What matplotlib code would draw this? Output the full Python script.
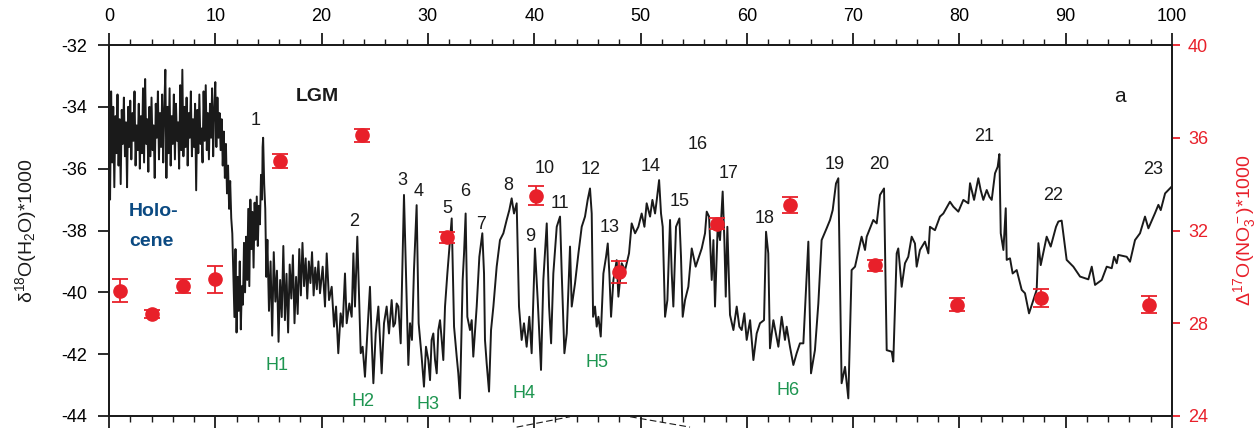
import matplotlib
matplotlib.use("Agg")
import matplotlib.pyplot as plt
from matplotlib.lines import Line2D
from matplotlib.ticker import MultipleLocator

plt.rcParams["font.family"] = ["Liberation Sans", "DejaVu Sans"]
plt.rcParams["mathtext.fontset"] = "custom"
plt.rcParams["mathtext.rm"] = "Liberation Sans"
plt.rcParams["mathtext.it"] = "Liberation Sans:italic"
plt.rcParams["mathtext.bf"] = "Liberation Sans:bold"
plt.rcParams["axes.unicode_minus"] = False

# ice-core d18O record: (age ka, d18O permil)
holocene = [
    (0.0, -34.2), (0.1, -37.0), (0.2, -33.5), (0.3, -35.8), (0.4, -34.0), (0.5, -36.6), (0.6, -34.3), (0.7, -35.5),
    (0.8, -33.6), (0.9, -35.9), (1.0, -34.4), (1.1, -36.5), (1.2, -34.1), (1.3, -35.2), (1.4, -33.7), (1.5, -35.6),
    (1.6, -34.5), (1.7, -36.6), (1.8, -34.0), (1.9, -35.3), (2.0, -33.8), (2.1, -35.7), (2.2, -34.2), (2.3, -35.1),
    (2.4, -33.5), (2.5, -35.9), (2.6, -34.6), (2.7, -35.4), (2.8, -33.9), (2.9, -36.0), (3.0, -34.3), (3.1, -35.5),
    (3.2, -33.4), (3.3, -35.8), (3.4, -33.1), (3.5, -35.2), (3.6, -34.4), (3.7, -36.1), (3.8, -34.0), (3.9, -35.6),
    (4.0, -33.7), (4.1, -35.4), (4.2, -34.6), (4.3, -36.3), (4.4, -33.9), (4.5, -35.0), (4.6, -33.5), (4.7, -35.7),
    (4.8, -34.2), (4.9, -35.3), (5.0, -33.6), (5.1, -35.8), (5.2, -34.1), (5.3, -32.8), (5.4, -36.3), (5.5, -34.0),
    (5.6, -35.5), (5.7, -33.4), (5.8, -35.9), (5.9, -34.3), (6.0, -35.2), (6.1, -33.6), (6.2, -35.7), (6.3, -33.9),
    (6.4, -35.1), (6.5, -34.5), (6.6, -36.0), (6.7, -33.3), (6.8, -35.4), (6.9, -32.8), (7.0, -35.6), (7.1, -34.0),
    (7.2, -35.3), (7.3, -33.7), (7.4, -35.9), (7.5, -34.2), (7.6, -35.0), (7.7, -33.5), (7.8, -35.6), (7.9, -34.4),
    (8.0, -35.3), (8.1, -33.9), (8.2, -36.7), (8.3, -34.1), (8.4, -35.5), (8.5, -33.6), (8.6, -35.2), (8.7, -34.7),
    (8.8, -35.8), (8.9, -33.5), (9.0, -35.1), (9.1, -33.3), (9.2, -35.4), (9.3, -34.2), (9.4, -35.7), (9.5, -33.9),
    (9.6, -35.0), (9.7, -33.4), (9.8, -35.6), (9.9, -34.1), (10.0, -33.2), (10.1, -35.3), (10.2, -33.7), (10.3, -35.0),
    (10.4, -34.2), (10.5, -35.4), (10.6, -34.4), (10.7, -35.9), (10.8, -34.8), (10.9, -36.3), (11.0, -35.2),
    (11.1, -36.8), (11.2, -35.9), (11.3, -37.3), (11.4, -36.4), (11.5, -37.6), (11.6, -38.1),
]

deglacial = [
    (11.7, -39.4), (11.8, -40.8), (11.9, -38.6), (12.0, -41.3), (12.1, -39.5), (12.2, -40.6), (12.3, -39.0),
    (12.4, -41.2), (12.5, -39.8), (12.6, -40.4), (12.7, -38.4), (12.8, -40.0), (12.9, -38.2), (13.0, -39.6),
    (13.1, -37.3), (13.2, -39.8), (13.3, -37.0), (13.4, -38.6), (13.5, -37.4), (13.6, -39.2), (13.7, -37.1),
    (13.8, -38.3), (13.9, -36.9), (14.0, -38.5), (14.1, -37.2), (14.2, -37.8), (14.3, -36.2), (14.4, -37.0),
    (14.45, -35.3), (14.5, -35.0), (14.6, -36.5), (14.7, -37.3), (14.8, -39.5),
]

stadial_h1 = [
    (14.9, -38.3), (15.05, -40.6), (15.2, -39.0), (15.35, -41.4), (15.5, -38.7), (15.65, -40.3), (15.8, -39.3),
    (15.95, -41.6), (16.1, -39.6), (16.25, -40.8), (16.4, -38.5), (16.55, -40.9), (16.7, -39.4), (16.85, -41.3),
    (17.0, -39.1), (17.15, -40.2), (17.3, -38.8), (17.45, -41.0), (17.6, -39.5), (17.75, -40.7), (17.9, -38.6),
    (18.05, -40.1), (18.2, -38.4), (18.35, -39.8), (18.5, -38.9), (18.65, -40.2), (18.8, -39.0), (18.95, -39.7),
    (19.1, -38.7), (19.25, -40.1), (19.4, -39.2), (19.55, -39.9), (19.7, -39.0),
]

glacial_20_40 = [
    (19.85, -40.03), (20.10, -39.17), (20.32, -40.46), (20.48, -38.74), (20.70, -40.25), (20.95, -39.82),
    (21.17, -41.11), (21.36, -40.46), (21.57, -41.97), (21.79, -40.68), (21.98, -41.11), (22.20, -39.39),
    (22.36, -41.00), (22.61, -40.36), (22.83, -40.79), (22.99, -38.74), (23.14, -40.46), (23.36, -38.20),
    (23.55, -40.46), (23.68, -41.97), (23.86, -41.76), (24.08, -42.73), (24.30, -41.33), (24.55, -39.82),
    (24.71, -41.54), (24.87, -42.94), (25.09, -41.33), (25.34, -40.46), (25.49, -41.54), (25.65, -42.62),
    (25.87, -41.00), (26.12, -40.46), (26.34, -41.33), (26.59, -40.25), (26.75, -41.11), (26.91, -41.00),
    (27.06, -40.36), (27.22, -40.46), (27.44, -41.65), (27.63, -38.63), (27.75, -36.85), (27.94, -39.39),
    (28.16, -42.35), (28.32, -41.00), (28.50, -41.54), (28.69, -39.28), (28.94, -37.18), (29.13, -41.00),
    (29.41, -42.08), (29.63, -43.05), (29.82, -41.76), (30.04, -42.19), (30.20, -42.84), (30.35, -41.54),
    (30.51, -41.33), (30.67, -42.19), (30.83, -42.62), (30.98, -41.22), (31.14, -40.90), (31.30, -41.54),
    (31.45, -42.19), (31.61, -40.46), (31.83, -39.39), (32.08, -38.31), (32.24, -37.61), (32.46, -41.11),
    (32.71, -42.08), (32.86, -42.62), (33.02, -43.43), (33.27, -39.60), (33.40, -38.74), (33.55, -37.45),
    (33.71, -40.79), (33.96, -41.22), (34.12, -40.90), (34.27, -42.08), (34.59, -40.46), (34.84, -38.85),
    (35.12, -38.09), (35.28, -39.39), (35.37, -41.54), (35.53, -42.30), (35.75, -43.21), (35.94, -41.22),
    (36.16, -40.46), (36.47, -39.17), (36.78, -38.31), (37.10, -38.09), (37.41, -37.66), (37.66, -37.34),
    (37.88, -36.96), (38.10, -37.45), (38.35, -37.12), (38.57, -40.46), (38.82, -41.54), (39.04, -41.00),
    (39.29, -41.76), (39.54, -40.79), (39.76, -41.97), (40.07, -38.58),
]

glacial_40_60 = [
    (40.33, -40.25), (40.64, -42.51), (40.86, -39.60), (41.18, -37.77), (41.40, -40.46), (41.59, -41.65),
    (41.80, -39.39), (42.12, -37.88), (42.43, -37.55), (42.59, -39.39), (42.84, -41.97), (43.06, -41.33),
    (43.37, -38.52), (43.53, -40.46), (43.84, -39.71), (44.16, -38.74), (44.47, -37.88), (44.78, -37.55),
    (45.03, -37.01), (45.25, -36.64), (45.41, -37.45), (45.54, -40.79), (45.72, -40.46), (45.88, -41.11),
    (46.04, -40.79), (46.26, -41.43), (46.51, -39.39), (46.76, -38.85), (46.92, -38.42), (47.07, -39.39),
    (47.23, -40.79), (47.45, -39.60), (47.76, -38.96), (47.92, -40.14), (48.23, -39.06), (48.55, -39.28),
    (48.92, -38.74), (49.17, -37.77), (49.49, -38.09), (49.80, -37.88), (50.11, -37.45), (50.37, -37.88),
    (50.58, -37.12), (50.90, -37.55), (51.12, -37.01), (51.37, -37.45), (51.53, -37.01), (51.75, -36.37),
    (51.93, -37.45), (52.09, -37.88), (52.31, -40.79), (52.53, -40.25), (52.78, -37.66), (52.94, -39.39),
    (53.09, -40.46), (53.34, -37.88), (53.66, -37.61), (53.81, -38.85), (53.97, -40.79), (54.19, -40.25),
    (54.50, -39.82), (54.82, -38.58), (55.19, -39.17), (55.76, -38.58), (56.07, -38.09), (56.23, -37.39),
    (56.45, -37.55), (56.70, -39.60), (56.86, -38.31), (57.01, -40.46), (57.26, -37.88), (57.48, -38.31),
    (57.73, -36.74), (57.89, -38.31), (58.02, -40.14), (58.17, -37.88), (58.42, -40.73), (58.74, -41.22),
    (59.05, -40.46), (59.30, -41.11), (59.52, -41.22), (59.77, -40.68), (59.99, -41.54), (60.31, -40.90),
    (60.62, -42.19),
]

glacial_60_100 = [
    (60.93, -41.33), (61.24, -41.00), (61.62, -40.90), (61.81, -38.04), (62.02, -38.74), (62.18, -41.81),
    (62.50, -40.90), (62.97, -41.76), (63.28, -40.79), (63.59, -41.54), (63.75, -41.11), (64.06, -41.76),
    (64.38, -42.35), (64.69, -41.97), (65.00, -41.65), (65.32, -41.65), (65.79, -38.36), (66.04, -42.62),
    (66.41, -41.87), (66.73, -40.36), (67.04, -38.31), (67.51, -37.93), (67.83, -37.66), (68.08, -37.34),
    (68.39, -36.48), (68.61, -36.31), (68.92, -42.94), (69.24, -42.41), (69.55, -43.43), (69.86, -39.28),
    (70.18, -39.17), (70.80, -38.20), (71.12, -38.63), (71.28, -38.20), (71.90, -37.66), (72.22, -37.77),
    (72.53, -36.85), (72.91, -36.64), (73.16, -41.87), (73.63, -41.92), (73.78, -42.24), (74.10, -38.74),
    (74.25, -38.58), (74.57, -39.82), (74.88, -39.06), (75.19, -38.85), (75.51, -38.20), (75.82, -38.42),
    (75.98, -39.17), (76.29, -38.63), (76.76, -38.36), (77.08, -38.74), (77.23, -37.88), (77.70, -37.99),
    (78.17, -37.55), (78.49, -37.45), (79.11, -37.07), (79.43, -37.23), (79.90, -37.39), (80.37, -37.01),
    (80.84, -37.12), (81.00, -36.47), (81.38, -37.01), (81.78, -36.31), (82.00, -36.69), (82.25, -37.01),
    (82.57, -36.69), (82.82, -36.91), (83.04, -37.01), (83.35, -36.15), (83.60, -35.94), (83.76, -35.53),
    (83.89, -38.09), (84.14, -38.63), (84.36, -37.28), (84.45, -38.95), (84.76, -38.90), (85.01, -39.39),
    (85.39, -39.28), (85.86, -39.92), (86.17, -40.03), (86.55, -40.68), (87.27, -39.92), (87.43, -38.41),
    (87.65, -39.12), (88.21, -38.20), (88.59, -38.52), (89.09, -37.88), (89.31, -37.71), (89.62, -37.68),
    (90.09, -38.95), (90.72, -39.17), (91.35, -39.49), (92.13, -39.58), (92.45, -39.17), (92.76, -39.76),
    (93.39, -39.60), (93.86, -39.17), (94.33, -39.22), (94.55, -38.85), (94.80, -39.06), (94.95, -38.79),
    (95.74, -38.85), (96.05, -39.01), (96.52, -38.31), (96.99, -38.09), (97.46, -37.55), (97.78, -37.93),
    (98.40, -37.44), (98.72, -37.17), (98.94, -37.34), (99.35, -36.80), (99.97, -36.58),
]

# nitrate D17O samples (right axis)
no3_age = [1.0, 4.0, 7.0, 10.0, 16.1, 23.8, 31.8, 40.2, 48.0, 57.2, 64.1, 72.1, 79.8, 87.7, 97.8]
no3_d17o = [29.4, 28.4, 29.6, 29.9, 35.0, 36.1, 31.7, 33.5, 30.2, 32.3, 33.1, 30.5, 28.8, 29.1, 28.8]
no3_err = [0.5, 0.17, 0.29, 0.59, 0.32, 0.29, 0.25, 0.4, 0.48, 0.22, 0.36, 0.23, 0.29, 0.38, 0.36]

# interstadial numbers and Heinrich events
is_labels = ["1", "2", "3", "4", "5", "6", "7", "8", "9", "10", "11", "12",
             "13", "14", "15", "16", "17", "18", "19", "20", "21", "22", "23"]
is_age = [13.83, 23.05, 27.6, 29.1, 31.8, 33.5, 35.0, 37.57, 39.6, 40.95, 42.43, 45.3,
          47.07, 50.96, 53.7, 55.38, 58.3, 61.65, 68.3, 72.47, 82.34, 88.83, 98.2]
is_pos = [-34.43, -37.71, -36.37, -36.74, -37.28, -36.74, -37.82, -36.53, -38.2, -35.99, -37.14, -36.04,
          -37.91, -35.93, -37.07, -35.23, -36.15, -37.6, -35.88, -35.88, -34.97, -36.88, -36.04]
h_labels = ["H1", "H2", "H3", "H4", "H5", "H6"]
h_age = [15.83, 23.92, 29.98, 39.07, 45.94, 63.9]
h_pos = [-42.38, -43.54, -43.64, -43.27, -42.27, -43.16]

RED = "#e8202a"
GREEN = "#1d9550"
BLUE = "#0b4a82"
INK = "#1a1a1a"

record = holocene + deglacial + stadial_h1 + glacial_20_40 + glacial_40_60 + glacial_60_100
ages = [a for a, _ in record]
d18o = [v for _, v in record]

fig = plt.figure(figsize=(12.58, 4.28), dpi=100)
ax = fig.add_axes([109 / 1258, 12 / 428, 1063 / 1258, 371 / 428])
ax.plot(ages, d18o, color=INK, lw=1.4, zorder=2)
ax.set_xlim(0, 100)
ax.set_ylim(-44, -32)

ax.xaxis.set_major_locator(MultipleLocator(10))
ax.xaxis.set_minor_locator(MultipleLocator(2))
ax.tick_params(axis="x", which="both", direction="out", top=True, bottom=True,
               labeltop=True, labelbottom=False, color=INK)
ax.tick_params(axis="x", which="major", length=8.5, width=1.3, labelsize=13, pad=6)
ax.tick_params(axis="x", which="minor", length=4.5, width=1.0)
ax.yaxis.set_major_locator(MultipleLocator(2))
ax.tick_params(axis="y", which="major", direction="out", length=8, width=1.3,
               labelsize=13, pad=8, color=INK)
ax.set_ylabel("δ$^{18}$O(H$_2$O)*1000", fontsize=14, color=INK)
ax.yaxis.set_label_coords(-0.0655, 0.5)

ax2 = ax.twinx()
ax2.errorbar(no3_age, no3_d17o, yerr=no3_err, fmt="o", color=RED, ms=9.5,
             capsize=5.5, elinewidth=1.3, capthick=1.3, zorder=3)
ax2.set_ylim(24, 40)
ax2.yaxis.set_major_locator(MultipleLocator(4))
ax2.tick_params(axis="y", direction="out", length=5.5, width=1.3, labelsize=13,
                pad=6, colors=RED)
ax2.set_ylabel("Δ$^{17}$O(NO$_3^-$)*1000", fontsize=14, color=RED)
ax2.yaxis.set_label_coords(1.056, 0.5)

for a in (ax, ax2):
    for sp in a.spines.values():
        sp.set_linewidth(1.3)
        sp.set_color(INK)

for lab, x, y in zip(is_labels, is_age, is_pos):
    ax.text(x, y, lab, fontsize=13, color=INK, ha="center", va="center")
for lab, x, y in zip(h_labels, h_age, h_pos):
    ax.text(x, y, lab, fontsize=13, color=GREEN, ha="center", va="center")

ax.text(19.6, -33.65, "LGM", fontsize=14, fontweight="bold", color=INK, ha="center", va="center")
ax.text(1.9, -37.37, "Holo-", fontsize=14, fontweight="bold", color=BLUE, ha="left", va="center")
ax.text(1.9, -38.37, "cene", fontsize=14, fontweight="bold", color=BLUE, ha="left", va="center")
ax.text(95.1, -33.65, "a", fontsize=15, color=INK, ha="center", va="center")

# dashed connectors running down to the next panel
for xs, ys in (([0.3835, 0.4337], [-0.03, -0.002]), ([0.4902, 0.5466], [-0.002, -0.03])):
    ax.add_line(Line2D(xs, ys, transform=ax.transAxes, ls=(0, (6, 3)), lw=0.8,
                       color=INK, clip_on=False))

fig.savefig("out.png", dpi=100)
